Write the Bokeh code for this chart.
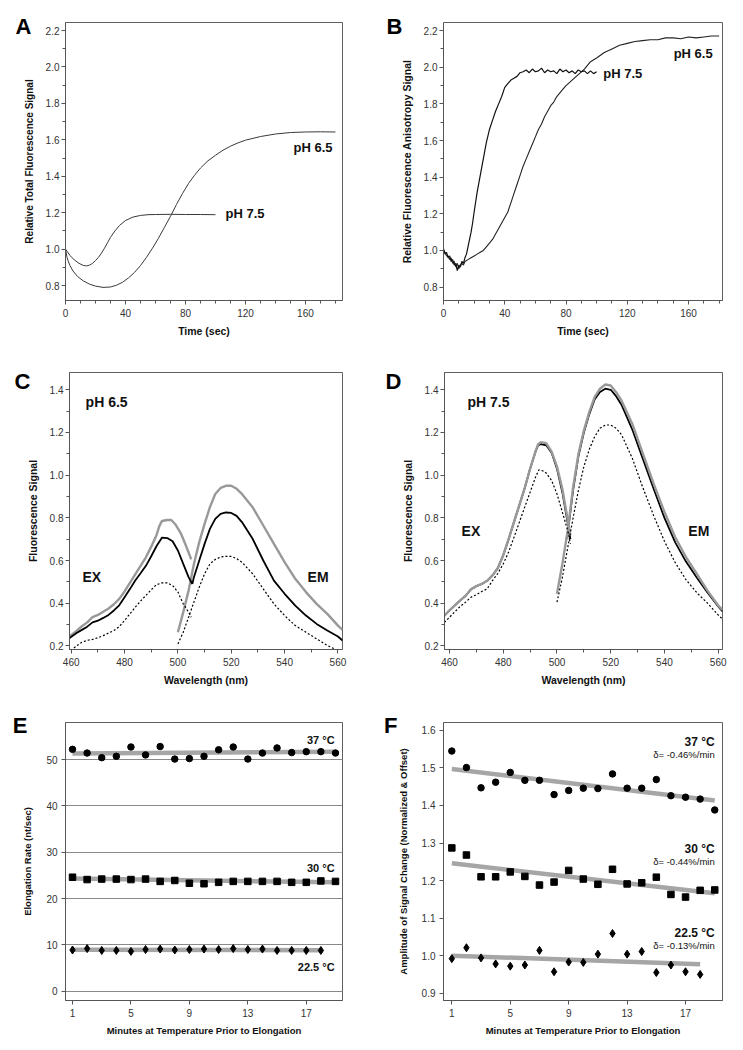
from bokeh.plotting import figure
from bokeh.layouts import column, row
from bokeh.models import Label, FixedTicker, Range1d, PrintfTickFormatter, LinearAxis
from bokeh.embed import file_html
from bokeh.resources import INLINE

FONT = "Liberation Sans"

# ---------------- Panel A: relative total fluorescence ----------------
a75_t = [0, 3, 6, 9, 12, 14, 16, 18, 20, 22, 24, 26, 28, 30, 33, 36, 40, 45, 50, 55, 60, 70, 80, 90, 100]
a75_y = [1.0, 0.965, 0.94, 0.922, 0.91, 0.908, 0.912, 0.922, 0.937, 0.955, 0.978, 1.005, 1.035, 1.065,
         1.10, 1.13, 1.157, 1.176, 1.185, 1.189, 1.19, 1.191, 1.19, 1.19, 1.189]
a65_t = [0, 1, 2, 3, 5, 8, 12, 16, 20, 25, 30, 34, 38, 42, 46, 50, 54, 58, 62, 66, 70, 74, 78, 82, 86,
         90, 95, 100, 105, 110, 115, 120, 130, 140, 150, 160, 170, 180]
a65_y = [1.0, 0.955, 0.93, 0.91, 0.88, 0.85, 0.825, 0.808, 0.797, 0.79, 0.792, 0.802, 0.818, 0.842, 0.872,
         0.91, 0.955, 1.005, 1.06, 1.12, 1.18, 1.245, 1.305, 1.36, 1.405, 1.445, 1.485, 1.515, 1.543,
         1.565, 1.583, 1.598, 1.618, 1.632, 1.640, 1.643, 1.644, 1.643]

# ---------------- Panel B: relative anisotropy ----------------
b75_t = list(range(0, 21)) + list(range(22, 101, 2))
b75_y = [1.01, 0.98, 0.99, 0.96, 0.97, 0.94, 0.95, 0.92, 0.93, 0.89, 0.92, 0.91, 0.94, 0.93, 0.96, 0.98,
         1.02, 1.06, 1.10, 1.15, 1.21,
         1.32, 1.41, 1.50, 1.59, 1.66, 1.71, 1.76, 1.80, 1.84, 1.89, 1.91, 1.93, 1.94, 1.95, 1.97,
         1.975, 1.985, 1.97, 1.99, 1.975, 1.98, 1.995, 1.97, 1.985, 1.975, 1.98, 1.965, 1.99, 1.975, 1.985,
         1.97, 1.98, 1.965, 1.985, 1.975, 1.98, 1.965, 1.98, 1.965, 1.975]
b65_t = list(range(0, 15)) + list(range(16, 81, 2)) + [84, 88, 92, 96, 100] + list(range(105, 181, 5))
b65_y = [1.0, 0.99, 0.97, 0.97, 0.95, 0.96, 0.93, 0.94, 0.91, 0.93, 0.90, 0.92, 0.93, 0.92, 0.94,
         0.95, 0.96, 0.97, 0.98, 0.99, 1.00, 1.02, 1.04, 1.06, 1.09, 1.12, 1.15, 1.18, 1.21, 1.26, 1.31,
         1.36, 1.41, 1.46, 1.50, 1.54, 1.58, 1.62, 1.66, 1.69, 1.73, 1.76, 1.79, 1.81, 1.84, 1.86, 1.88,
         1.90, 1.93, 1.96, 1.99, 2.03, 2.05,
         2.08, 2.10, 2.12, 2.13, 2.14, 2.145, 2.15, 2.15, 2.16, 2.16, 2.155, 2.165, 2.16, 2.165, 2.17, 2.17]

# ---------------- Panel C: spectra pH 6.5 ----------------
c_ex_x = [459.4, 462, 464, 466, 468, 470, 472, 474, 476, 478, 480, 482, 484, 486, 488, 490, 492, 493, 494,
          496, 497.5, 499, 501, 503, 505]
c_ex_gray = [0.245, 0.27, 0.292, 0.31, 0.335, 0.345, 0.36, 0.375, 0.395, 0.42, 0.455, 0.495, 0.535, 0.575,
             0.615, 0.665, 0.72, 0.76, 0.785, 0.79, 0.79, 0.77, 0.73, 0.67, 0.605]
c_exb_x = [459.4, 462, 464, 466, 468, 470, 472, 474, 476, 478, 480, 482, 484, 486, 488, 490, 492, 494, 496,
           498, 500, 502, 504, 505.4]
c_ex_black = [0.237, 0.26, 0.275, 0.29, 0.31, 0.318, 0.331, 0.345, 0.366, 0.39, 0.428, 0.466, 0.506, 0.54,
              0.575, 0.62, 0.668, 0.707, 0.705, 0.69, 0.647, 0.584, 0.522, 0.49]
c_exd_x = [461, 462, 464, 466, 468, 470, 472, 474, 476, 478, 480, 482, 484, 486, 488, 490, 492, 494, 496,
           498, 500, 502, 504, 505]
c_ex_dot = [0.19, 0.2, 0.217, 0.226, 0.23, 0.238, 0.248, 0.26, 0.272, 0.29, 0.319, 0.35, 0.381, 0.41, 0.436,
            0.463, 0.487, 0.495, 0.495, 0.483, 0.452, 0.397, 0.358, 0.334]
c_em_x = [500, 502, 504, 506, 508, 510, 512, 514, 516, 518, 520, 522, 524, 528, 532, 536, 540, 544, 548,
          552, 556, 560, 561.7]
c_em_gray = [0.264, 0.358, 0.459, 0.584, 0.686, 0.772, 0.85, 0.912, 0.94, 0.95, 0.95, 0.936, 0.912, 0.85,
             0.764, 0.678, 0.592, 0.514, 0.452, 0.397, 0.35, 0.295, 0.275]
c_emb_x = [505.4, 506, 508, 510, 512, 514, 516, 518, 520, 522, 524, 528, 532, 536, 540, 544, 548, 552, 556,
           560, 561.7]
c_em_black = [0.49, 0.522, 0.6, 0.678, 0.748, 0.795, 0.819, 0.825, 0.823, 0.809, 0.78, 0.702, 0.6, 0.506,
              0.444, 0.389, 0.342, 0.303, 0.272, 0.244, 0.225]
c_emd_x = [500, 502, 504, 506, 508, 510, 512, 514, 516, 518, 520, 522, 524, 528, 532, 536, 540, 544, 548,
           552, 556, 560]
c_em_dot = [0.209, 0.264, 0.334, 0.405, 0.475, 0.538, 0.584, 0.605, 0.616, 0.62, 0.619, 0.609, 0.592, 0.538,
            0.467, 0.397, 0.342, 0.295, 0.264, 0.233, 0.202, 0.178]

# ---------------- Panel D: spectra pH 7.5 ----------------
d_ex_x = [458.1, 460, 462, 464, 466, 468, 470, 472, 474, 476, 478, 480, 482, 484, 486, 488, 490, 492, 493,
          494, 496, 498, 500, 502, 504, 505]
d_ex_gray = [0.342, 0.366, 0.39, 0.413, 0.435, 0.465, 0.48, 0.49, 0.505, 0.53, 0.565, 0.625, 0.70, 0.78,
             0.86, 0.94, 1.03, 1.11, 1.145, 1.155, 1.15, 1.11, 1.04, 0.935, 0.79, 0.717]
d_ex_black = [0.342, 0.366, 0.39, 0.413, 0.435, 0.465, 0.48, 0.49, 0.505, 0.53, 0.565, 0.625, 0.70, 0.78,
              0.86, 0.94, 1.03, 1.11, 1.14, 1.145, 1.14, 1.105, 1.03, 0.92, 0.775, 0.70]
d_exd_x = [458.1, 460, 462, 464, 466, 468, 470, 472, 474, 476, 478, 480, 482, 484, 486, 488, 490, 492,
           493.3, 495, 496, 498, 500, 502, 504, 505]
d_ex_dot = [0.31, 0.334, 0.36, 0.385, 0.405, 0.428, 0.44, 0.455, 0.467, 0.506, 0.54, 0.584, 0.64, 0.709,
            0.78, 0.85, 0.92, 0.99, 1.025, 1.019, 1.01, 0.975, 0.912, 0.827, 0.74, 0.678]
d_em_x = [500, 502, 504, 506, 508, 510, 512, 514, 516, 518, 520, 522, 524, 528, 532, 536, 540, 544, 548,
          552, 556, 560, 561.6]
d_em_gray = [0.444, 0.584, 0.74, 0.944, 1.10, 1.209, 1.295, 1.366, 1.405, 1.425, 1.42, 1.389, 1.35, 1.241,
             1.10, 0.959, 0.827, 0.709, 0.616, 0.538, 0.459, 0.389, 0.369]
d_emb_x = [503.5, 504, 506, 508, 510, 512, 514, 516, 518, 520, 522, 524, 528, 532, 536, 540, 544, 548, 552,
           556, 560, 561.6]
d_em_black = [0.70, 0.73, 0.93, 1.09, 1.20, 1.285, 1.355, 1.39, 1.405, 1.40, 1.37, 1.33, 1.215, 1.075, 0.935,
              0.80, 0.685, 0.595, 0.52, 0.45, 0.385, 0.362]
d_em_dot = [0.405, 0.52, 0.66, 0.80, 0.93, 1.04, 1.12, 1.18, 1.22, 1.235, 1.235, 1.22, 1.19, 1.08, 0.94,
            0.81, 0.69, 0.59, 0.51, 0.45, 0.40, 0.345, 0.325]

# ---------------- Panel E: elongation rate ----------------
e_x = list(range(1, 20))
e_x22 = list(range(1, 19))
e_y37 = [52.2, 51.4, 50.4, 50.7, 52.7, 51.0, 52.8, 50.1, 50.2, 50.7, 52.1, 52.7, 50.1, 51.4, 52.5, 51.5,
         51.7, 51.7, 51.4]
e_y30 = [24.6, 24.1, 24.2, 24.2, 24.1, 24.2, 23.7, 23.9, 23.3, 23.2, 23.5, 23.7, 23.7, 23.7, 23.7, 23.5,
         23.5, 23.8, 23.7]
e_y22 = [8.9, 9.2, 8.8, 8.8, 8.6, 9.0, 9.1, 8.9, 9.0, 9.1, 9.0, 9.2, 9.0, 9.1, 8.8, 8.8, 8.8, 8.8]
e_fit_x = [1, 19]
e_fit_x22 = [1, 18]
e_fit37 = [51.3, 51.7]
e_fit30 = [24.3, 23.5]
e_fit22 = [8.95, 8.85]

# ---------------- Panel F: amplitude of signal change ----------------
f_y37 = [1.545, 1.501, 1.447, 1.462, 1.488, 1.467, 1.467, 1.429, 1.440, 1.446, 1.445, 1.484, 1.446, 1.446,
         1.469, 1.426, 1.422, 1.417, 1.388]
f_y30 = [1.287, 1.268, 1.210, 1.210, 1.223, 1.211, 1.188, 1.196, 1.227, 1.204, 1.190, 1.230, 1.191, 1.194,
         1.209, 1.163, 1.156, 1.174, 1.175]
f_y22 = [0.992, 1.021, 0.994, 0.978, 0.972, 0.975, 1.014, 0.957, 0.983, 0.982, 1.004, 1.059, 1.004, 1.011,
         0.955, 0.975, 0.957, 0.950]
f_fit37 = [1.497, 1.413]
f_fit30 = [1.246, 1.166]
f_fit22 = [1.000, 0.977]

time_ticks = [0, 40, 80, 120, 160]
time_minor = list(range(0, 190, 10))
sig_ticks = [0.8, 1.0, 1.2, 1.4, 1.6, 1.8, 2.0, 2.2]
sig_minor = [0.8, 0.9, 1.0, 1.1, 1.2, 1.3, 1.4, 1.5, 1.6, 1.7, 1.8, 1.9, 2.0, 2.1, 2.2]
wl_ticks = [460, 480, 500, 520, 540, 560]
wl_minor = [460, 470, 480, 490, 500, 510, 520, 530, 540, 550, 560]
spec_ticks = [0.2, 0.4, 0.6, 0.8, 1.0, 1.2, 1.4]
spec_minor = [0.2, 0.3, 0.4, 0.5, 0.6, 0.7, 0.8, 0.9, 1.0, 1.1, 1.2, 1.3, 1.4]
min_ticks = [1, 5, 9, 13, 17]
rate_ticks = [0, 10, 20, 30, 40, 50]
amp_ticks = [0.9, 1.0, 1.1, 1.2, 1.3, 1.4, 1.5, 1.6]

AX = "#555555"
M = 8  # page margin that is not applied by the page itself


def make(xr, yr, fl, ft, fw, fh, W, H):
    p = figure(x_range=Range1d(*xr), y_range=Range1d(*yr), frame_width=fw, frame_height=fh,
               min_border_left=fl, min_border_top=ft, min_border_right=W - fl - fw,
               min_border_bottom=H - ft - fh, output_backend="svg", toolbar_location=None)
    p.outline_line_color = "#606060"
    p.outline_line_width = 1
    p.xgrid.visible = False
    p.ygrid.visible = False
    return p


def style(p, xt, xm, yt, ym, xl, yl, lsize="10.5px", ylsize=None, yfmt=None, xstand=5, ystand=8, ylstand=2):
    p.xaxis.ticker = FixedTicker(ticks=xt, minor_ticks=xm)
    p.yaxis.ticker = FixedTicker(ticks=yt, minor_ticks=ym)
    if yfmt:
        p.yaxis.formatter = PrintfTickFormatter(format=yfmt)
    p.xaxis.axis_label = xl
    p.yaxis.axis_label = yl
    for ax in p.xaxis + p.yaxis:
        ax.axis_line_color = AX
        ax.major_tick_line_color = AX
        ax.minor_tick_line_color = AX
        ax.major_tick_out = 4
        ax.major_tick_in = 0
        ax.minor_tick_out = 3
        ax.minor_tick_in = 0
        ax.major_label_text_font = FONT
        ax.major_label_text_font_size = "10px"
        ax.major_label_text_color = "#333333"
        ax.axis_label_text_font = FONT
        ax.axis_label_text_font_style = "bold"
        ax.axis_label_text_font_size = lsize
        ax.axis_label_text_color = "#111111"
    if ylsize:
        p.yaxis.axis_label_text_font_size = ylsize
    p.xaxis.major_label_standoff = 4
    p.yaxis.major_label_standoff = ylstand
    p.xaxis.axis_label_standoff = xstand
    p.yaxis.axis_label_standoff = ystand


def txt(p, x, y, s, size="13px", bold=True, align="left"):
    p.add_layout(Label(x=x, y=y, text=s, text_font=FONT, text_font_size=size,
                       text_font_style="bold" if bold else "normal", text_align=align,
                       text_baseline="middle", text_color="#111111"))


def letter(p, ypos, s, standoff):
    # panel letter drawn as the only tick label of an extra, line-less axis on the left
    ax = LinearAxis(ticker=FixedTicker(ticks=[ypos]), major_label_overrides={ypos: s},
                    axis_line_color=None, major_tick_line_color=None, minor_tick_line_color=None,
                    major_tick_out=0, major_tick_in=0, minor_tick_out=0, minor_tick_in=0,
                    major_label_standoff=standoff, major_label_text_font=FONT,
                    major_label_text_font_size="22px", major_label_text_font_style="bold",
                    major_label_text_color="#000000")
    p.add_layout(ax, "left")


# ---- A
pA = make((0, 184.7), (0.718, 2.244), 57 + M, 14 + M, 277, 278, 362 + M, 332 + M)
style(pA, time_ticks, time_minor, sig_ticks, sig_minor, "Time (sec)", "Relative Total Fluorescence Signal",
      ylsize="10px", yfmt="%.1f")
pA.line(a65_t, a65_y, line_color="#3a3a3a", line_width=1)
pA.line(a75_t, a75_y, line_color="#3a3a3a", line_width=1)
txt(pA, 152, 1.557, "pH 6.5")
txt(pA, 106.7, 1.195, "pH 7.5")
letter(pA, 2.222, "A", -11)

# ---- B
pB = make((0, 182.2), (0.727, 2.244), 73, 14 + M, 279, 278, 365, 332 + M)
style(pB, time_ticks, time_minor, sig_ticks, sig_minor, "Time (sec)", "Relative Fluorescence Anisotropy Signal",
      yfmt="%.1f")
pB.line(b65_t, b65_y, line_color="#222222", line_width=1.1)
pB.line(b75_t, b75_y, line_color="#111111", line_width=1.2)
txt(pB, 150.3, 2.075, "pH 6.5")
txt(pB, 104.3, 1.965, "pH 7.5")
letter(pB, 2.222, "B", -5)

# ---- C
pC = make((459.36, 561.7), (0.183, 1.481), 61 + M, 32, 273, 277, 362 + M, 350)
style(pC, wl_ticks, wl_minor, spec_ticks, spec_minor, "Wavelength (nm)", "Fluorescence Signal", yfmt="%.1f")
pC.line(c_ex_x, c_ex_gray, line_color="#999999", line_width=2.4)
pC.line(c_em_x, c_em_gray, line_color="#999999", line_width=2.4)
pC.line(c_exb_x, c_ex_black, line_color="#000000", line_width=1.8)
pC.line(c_emb_x, c_em_black, line_color="#000000", line_width=1.8)
pC.line(c_exd_x, c_ex_dot, line_color="#000000", line_width=1.2, line_dash="2 2")
pC.line(c_emd_x, c_em_dot, line_color="#000000", line_width=1.2, line_dash="2 2")
txt(pC, 465.4, 1.345, "pH 6.5", size="14px")
txt(pC, 464.2, 0.525, "EX", size="14px")
txt(pC, 548.6, 0.525, "EM", size="14px")
letter(pC, 1.439, "C", -7)

# ---- D
pD = make((458.14, 561.6), (0.183, 1.481), 74, 32, 278, 277, 365, 350)
style(pD, wl_ticks, wl_minor, spec_ticks, spec_minor, "Wavelength (nm)", "Fluorescence Signal", yfmt="%.1f")
pD.line(d_ex_x, d_ex_black, line_color="#000000", line_width=1.8)
pD.line(d_emb_x, d_em_black, line_color="#000000", line_width=1.8)
pD.line(d_ex_x, d_ex_gray, line_color="#999999", line_width=2.4)
pD.line(d_em_x, d_em_gray, line_color="#999999", line_width=2.4)
pD.line(d_exd_x, d_ex_dot, line_color="#000000", line_width=1.2, line_dash="2 2")
pD.line(d_em_x, d_em_dot, line_color="#000000", line_width=1.2, line_dash="2 2")
txt(pD, 466.7, 1.345, "pH 7.5", size="14px")
txt(pD, 464.5, 0.74, "EX", size="14px")
txt(pD, 548.9, 0.74, "EM", size="14px")
letter(pD, 1.439, "D", -3)

# ---- E
pE = make((0.52, 19.48), (-2.0, 57.99), 57 + M, 32, 277, 278, 362 + M, 350)
style(pE, min_ticks, [], rate_ticks, [], "Minutes at Temperature Prior to Elongation",
      "Elongation Rate (nt/sec)", lsize="9.5px", ystand=10, ylstand=4)
pE.ygrid.visible = True
pE.ygrid.ticker = FixedTicker(ticks=rate_ticks)
pE.ygrid.grid_line_color = "#8a8a8a"
pE.ygrid.grid_line_width = 1
pE.line(e_fit_x, e_fit37, line_color="#a6a6a6", line_width=4.5)
pE.line(e_fit_x, e_fit30, line_color="#a6a6a6", line_width=4.5)
pE.line(e_fit_x22, e_fit22, line_color="#a6a6a6", line_width=4.5)
pE.scatter(e_x, e_y37, marker="circle", size=6.5, color="#000000")
pE.scatter(e_x, e_y30, marker="square", size=6.5, color="#000000")
pE.scatter(e_x22, e_y22, marker="diamond", size=8, color="#000000")
txt(pE, 18.94, 54.3, "37 °C", size="11px", align="right")
txt(pE, 18.94, 26.7, "30 °C", size="11px", align="right")
txt(pE, 18.94, 5.3, "22.5 °C", size="11px", align="right")
letter(pE, 57.34, "E", -8)

# ---- F
pF = make((0.43, 19.53), (0.8805, 1.621), 73, 32, 279, 278, 365, 350)
style(pF, min_ticks, [], amp_ticks, [], "Minutes at Temperature Prior to Elongation",
      "Amplitude of Signal Change (Normalized & Offset)", lsize="9.5px", yfmt="%.1f", ystand=10, ylstand=4)
pF.line(e_fit_x, f_fit37, line_color="#a6a6a6", line_width=4.5)
pF.line(e_fit_x, f_fit30, line_color="#a6a6a6", line_width=4.5)
pF.line(e_fit_x22, f_fit22, line_color="#a6a6a6", line_width=4.5)
pF.scatter(e_x, f_y37, marker="circle", size=6.5, color="#000000")
pF.scatter(e_x, f_y30, marker="square", size=6.5, color="#000000")
pF.scatter(e_x22, f_y22, marker="diamond", size=8, color="#000000")
for yy, yd, t, d in [(1.568, 1.536, "37 °C", "δ= -0.46%/min"),
                     (1.283, 1.251, "30 °C", "δ= -0.44%/min"),
                     (1.059, 1.027, "22.5 °C", "δ= -0.13%/min")]:
    txt(pF, 19.0, yy, t, size="12px", align="right")
    txt(pF, 19.0, yd, d, size="9.5px", bold=False, align="right")
letter(pF, 1.613, "F", -3)

layout = column(row(pA, pB), row(pC, pD), row(pE, pF))
open("out.html", "w").write(file_html(layout, INLINE))
